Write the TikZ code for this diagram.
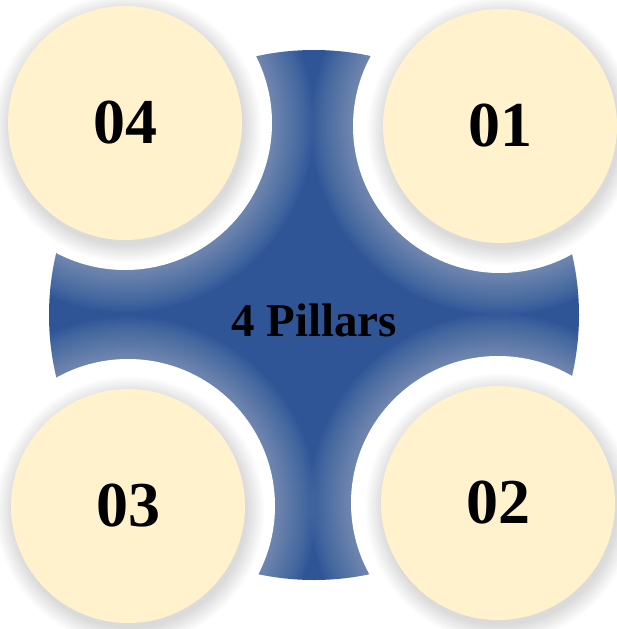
\documentclass[tikz,border=0pt]{standalone}
\usepackage{fontspec}
\setmainfont{Liberation Serif}
\usepackage{xcolor}
\usetikzlibrary{positioning}

\definecolor{pillarblue}{HTML}{2F5597}
\definecolor{cream}{HTML}{FFF2CC}

\begin{document}
\begin{tikzpicture}[x=1pt,y=-1pt,
  rim/.style={circle,fill=white,minimum size=294pt,inner sep=0pt},
  pillar/.style={circle,fill=cream,minimum size=234pt,inner sep=0pt,
    font=\bfseries\fontsize{64}{64}\selectfont},
  hubtext/.style={font=\bfseries\fontsize{47}{47}\selectfont}]
  \useasboundingbox (0,0) rectangle (616,629);
  % blue disk with soft light edges near the cut-outs
  \fill[pillarblue] (314,315) circle (265);
  \begin{scope}
    \clip (314,315) circle (265);
    \foreach \cx/\cy in {125/123,500/126,128/506,498/503}
      \foreach \r in {147,149,...,189}
        \fill[white,opacity=0.018] (\cx,\cy) circle (\r);
  \end{scope}
  % white rims
  \node[rim] (r4) at (125,123) {};
  \node[rim] (r1) at (500,126) {};
  \node[rim] (r3) at (128,506) {};
  \node[rim] (r2) at (498,503) {};
  % soft shadows
  \foreach \cx/\cy in {125/123,500/126,128/506,498/503}
    \foreach \r in {118,120,...,134}
      \fill[black,opacity=0.014] (\cx+2,\cy+5) circle (\r);
  % pillars
  \node[pillar] (p4) at (r4) {04};
  \node[pillar] (p1) at (r1) {01};
  \node[pillar] (p3) at (r3) {03};
  \node[pillar] (p2) at (r2) {02};
  \node[hubtext] (hub) at (314,320) {4 Pillars};
\end{tikzpicture}
\end{document}
